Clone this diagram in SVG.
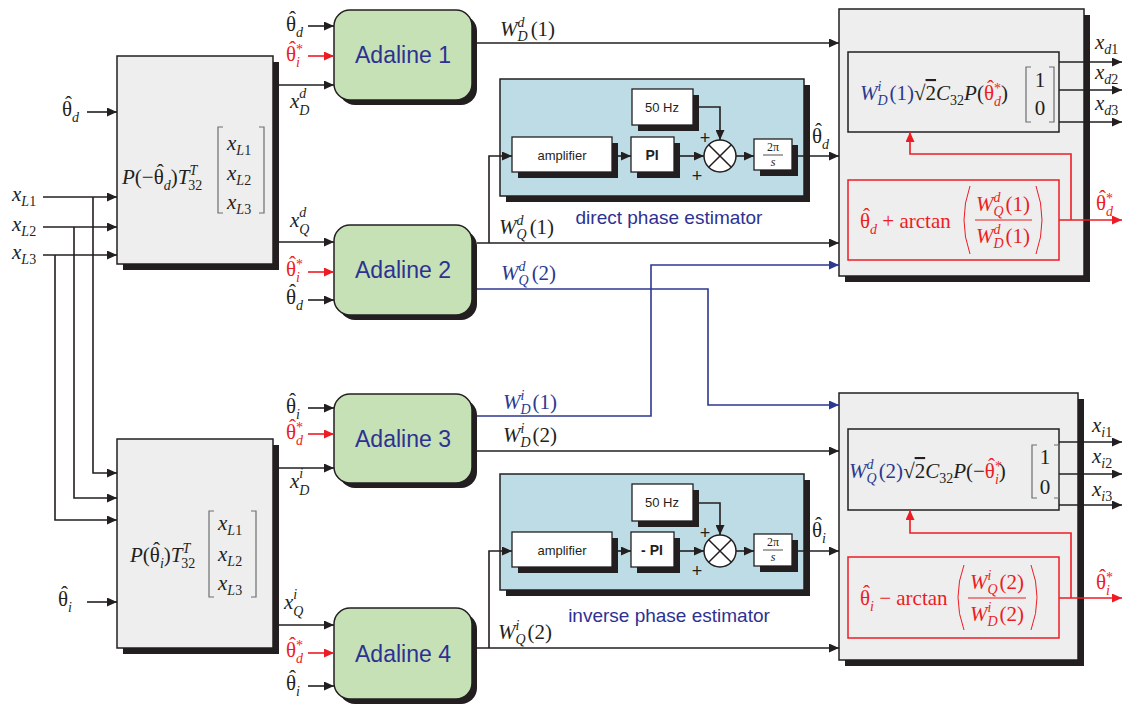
<svg xmlns="http://www.w3.org/2000/svg" width="1125" height="708" viewBox="0 0 1125 708">
<defs>
<style>
.blk{fill:#EDEEED;stroke:#231F20;stroke-width:1.5}
.sh{fill:#231F20}
.ada{fill:#C6E1B6;stroke:#231F20;stroke-width:1.5}
.est{fill:#BEDCE6;stroke:#231F20;stroke-width:1.5}
.wb{fill:#fff;stroke:#231F20;stroke-width:1.3}
.rb{fill:#EDEEED;stroke:#ED1C24;stroke-width:1.5}
.ln{fill:none;stroke:#231F20;stroke-width:1.6}
.lr{fill:none;stroke:#ED1C24;stroke-width:1.6}
.lb{fill:none;stroke:#2B3990;stroke-width:1.6}
.brk{fill:none;stroke:#6D6E71;stroke-width:1.2}
.brr{fill:none;stroke:#ED1C24;stroke-width:1}
.m{font-family:"Liberation Serif",serif;font-size:21px;fill:#231F20}
.i{font-style:italic}
.s{font-size:14px;font-style:italic}
.n{font-style:normal}
.r{fill:#ED1C24}
.b{fill:#2B3990}
.ov{text-decoration:overline}
.ad{font-family:"Liberation Sans",Arial,sans-serif;font-size:23px;fill:#2E3192}
.sm{font-family:"Liberation Sans",Arial,sans-serif;font-size:13px;fill:#231F20}
.pl{font-family:"Liberation Sans",Arial,sans-serif;font-size:18px;fill:#231F20}
.ttl{font-family:"Liberation Sans",Arial,sans-serif;font-size:19px;fill:#2E3192}
.fr{font-family:"Liberation Serif",serif;font-size:12px;fill:#231F20}
</style>
<marker id="ab" viewBox="0 0 10 9" refX="10" refY="4.5" markerWidth="10" markerHeight="9" markerUnits="userSpaceOnUse" orient="auto"><path d="M0,0 L10,4.5 L0,9 z" fill="#231F20"/></marker>
<marker id="ar" viewBox="0 0 10 9" refX="10" refY="4.5" markerWidth="10" markerHeight="9" markerUnits="userSpaceOnUse" orient="auto"><path d="M0,0 L10,4.5 L0,9 z" fill="#ED1C24"/></marker>
<marker id="abl" viewBox="0 0 10 9" refX="10" refY="4.5" markerWidth="10" markerHeight="9" markerUnits="userSpaceOnUse" orient="auto"><path d="M0,0 L10,4.5 L0,9 z" fill="#2B3990"/></marker>
</defs>
<rect width="1125" height="708" fill="#fff"/>

<g id="park-d">
<rect class="sh" x="123" y="62" width="156" height="208"/>
<rect class="blk" x="117" y="56" width="156" height="208"/>
<text class="m i" x="122" y="184">P<tspan class="n">(−θ</tspan><tspan class="n" dx="-7" dy="-5">ˆ</tspan><tspan class="s" dy="11">d</tspan><tspan class="n" dy="-6">)</tspan>T<tspan class="s" dy="-9">T</tspan><tspan class="s n" dx="-9" dy="15">32</tspan></text>
<path class="brk" d="M223,127 H218 V213 H223 M259,127 H264 V213 H259"/>
<text class="m i" x="227" y="150">x<tspan class="s" dy="5">L</tspan><tspan class="s n">1</tspan></text>
<text class="m i" x="227" y="180">x<tspan class="s" dy="5">L</tspan><tspan class="s n">2</tspan></text>
<text class="m i" x="227" y="209">x<tspan class="s" dy="5">L</tspan><tspan class="s n">3</tspan></text>
</g>

<g id="park-i">
<rect class="sh" x="123" y="445" width="156" height="209"/>
<rect class="blk" x="117" y="439" width="156" height="209"/>
<text class="m i" x="130" y="562">P<tspan class="n">(θ</tspan><tspan class="n" dx="-7" dy="-5">ˆ</tspan><tspan class="s" dy="11">i</tspan><tspan class="n" dy="-6">)</tspan>T<tspan class="s" dy="-9">T</tspan><tspan class="s n" dx="-9" dy="15">32</tspan></text>
<path class="brk" d="M214,511 H209 V597 H214 M251,511 H256 V597 H251"/>
<text class="m i" x="218" y="530">x<tspan class="s" dy="5">L</tspan><tspan class="s n">1</tspan></text>
<text class="m i" x="218" y="561">x<tspan class="s" dy="5">L</tspan><tspan class="s n">2</tspan></text>
<text class="m i" x="218" y="590">x<tspan class="s" dy="5">L</tspan><tspan class="s n">3</tspan></text>
</g>

<g id="adaline1">
<rect class="sh" x="339" y="15" width="138" height="90" rx="16"/>
<rect class="ada" x="334" y="10" width="138" height="90" rx="16"/>
<text class="ad" x="403" y="63" text-anchor="middle">Adaline 1</text>
</g>
<g id="adaline2">
<rect class="sh" x="339" y="230" width="138" height="90" rx="16"/>
<rect class="ada" x="334" y="225" width="138" height="90" rx="16"/>
<text class="ad" x="403" y="278" text-anchor="middle">Adaline 2</text>
</g>
<g id="adaline3">
<rect class="sh" x="339" y="399" width="138" height="89" rx="16"/>
<rect class="ada" x="334" y="394" width="138" height="89" rx="16"/>
<text class="ad" x="403" y="447" text-anchor="middle">Adaline 3</text>
</g>
<g id="adaline4">
<rect class="sh" x="339" y="613" width="138" height="91" rx="16"/>
<rect class="ada" x="334" y="608" width="138" height="91" rx="16"/>
<text class="ad" x="403" y="662" text-anchor="middle">Adaline 4</text>
</g>

<g id="est-d">
<rect class="sh" x="506" y="85" width="304" height="117"/>
<rect class="est" x="500" y="79" width="304" height="117"/>
<rect class="sh" x="518" y="143" width="100" height="35"/>
<rect class="wb" x="512" y="137" width="100" height="35"/>
<text class="sm" x="562" y="160" text-anchor="middle">amplifier</text>
<rect class="sh" x="637" y="143" width="43" height="35"/>
<rect class="wb" x="631" y="137" width="43" height="35"/>
<text class="sm" x="652" y="160" text-anchor="middle" style="font-size:14px;font-weight:bold">PI</text>
<rect class="sh" x="638" y="95" width="61" height="36"/>
<rect class="wb" x="632" y="89" width="61" height="36"/>
<text class="sm" x="662" y="112" text-anchor="middle">50 Hz</text>
<rect class="sh" x="760" y="145" width="38" height="31"/>
<rect class="wb" x="754" y="139" width="38" height="31"/>
<text class="fr" x="773" y="151" text-anchor="middle">2π</text>
<line x1="763" y1="155" x2="783" y2="155" stroke="#231F20" stroke-width="0.8"/>
<text class="fr" x="773" y="166" text-anchor="middle" font-style="italic">s</text>
<circle cx="720" cy="156" r="16" fill="#fff" stroke="#231F20" stroke-width="1.5"/>
<path d="M708.7,144.7 L731.3,167.3 M731.3,144.7 L708.7,167.3" stroke="#231F20" stroke-width="1.5"/>
<text class="pl" x="705" y="144" text-anchor="middle">+</text>
<text class="pl" x="697" y="182" text-anchor="middle">+</text>
<text class="ttl" x="669" y="224" text-anchor="middle">direct phase estimator</text>
</g>

<g id="est-i">
<rect class="sh" x="506" y="480" width="304" height="116"/>
<rect class="est" x="500" y="474" width="304" height="116"/>
<rect class="sh" x="518" y="538" width="100" height="35"/>
<rect class="wb" x="512" y="532" width="100" height="35"/>
<text class="sm" x="562" y="555" text-anchor="middle">amplifier</text>
<rect class="sh" x="637" y="538" width="43" height="35"/>
<rect class="wb" x="631" y="532" width="43" height="35"/>
<text class="sm" x="652" y="555" text-anchor="middle" style="font-size:14px;font-weight:bold">- PI</text>
<rect class="sh" x="638" y="490" width="61" height="37"/>
<rect class="wb" x="632" y="484" width="61" height="37"/>
<text class="sm" x="662" y="507" text-anchor="middle">50 Hz</text>
<rect class="sh" x="760" y="540" width="38" height="32"/>
<rect class="wb" x="754" y="534" width="38" height="32"/>
<text class="fr" x="773" y="546" text-anchor="middle">2π</text>
<line x1="763" y1="550" x2="783" y2="550" stroke="#231F20" stroke-width="0.8"/>
<text class="fr" x="773" y="561" text-anchor="middle" font-style="italic">s</text>
<circle cx="720" cy="551" r="16" fill="#fff" stroke="#231F20" stroke-width="1.5"/>
<path d="M708.7,539.7 L731.3,562.3 M731.3,539.7 L708.7,562.3" stroke="#231F20" stroke-width="1.5"/>
<text class="pl" x="705" y="539" text-anchor="middle">+</text>
<text class="pl" x="697" y="577" text-anchor="middle">+</text>
<text class="ttl" x="669" y="622" text-anchor="middle">inverse phase estimator</text>
</g>

<g id="out-d">
<rect class="sh" x="845" y="15" width="245" height="267"/>
<rect class="blk" x="839" y="9" width="245" height="267"/>
<rect class="blk" x="848" y="52" width="211" height="80"/>
<text class="m i" x="860" y="100"><tspan class="b">W</tspan><tspan class="s b" dy="-9">i</tspan><tspan class="s b" dx="-4" dy="14">D</tspan><tspan class="n b" dx="2" dy="-5">(1)</tspan><tspan class="n">√</tspan><tspan class="n ov">2</tspan>C<tspan class="s n" dy="5">32</tspan><tspan dy="-5">P</tspan><tspan class="n">(</tspan><tspan class="n r">θ</tspan><tspan class="n r" dx="-7" dy="-5">ˆ</tspan><tspan class="s n r" dy="-2">*</tspan><tspan class="s r" dx="-7" dy="13">d</tspan><tspan class="n" dy="-6">)</tspan></text>
<path class="brk" d="M1031,67 H1026 V122 H1031 M1049,67 H1054 V122 H1049"/>
<text class="m" x="1040" y="87" text-anchor="middle">1</text>
<text class="m" x="1040" y="115" text-anchor="middle">0</text>
<rect class="rb" x="848" y="180" width="211" height="80"/>
<text class="m r" x="860" y="228">θ<tspan dx="-7" dy="-5">ˆ</tspan><tspan class="s" dy="11">d</tspan><tspan dy="-6"> + arctan</tspan></text>
<path class="brr" d="M970,186 Q958,220 970,254 M1036,186 Q1048,220 1036,254"/>
<text class="m i r" x="1003" y="211" text-anchor="middle">W<tspan class="s" dy="-9">d</tspan><tspan class="s" dx="-7" dy="14">Q</tspan><tspan class="n" dx="2" dy="-5">(1)</tspan></text>
<line x1="975" y1="220" x2="1032" y2="220" stroke="#ED1C24" stroke-width="1"/>
<text class="m i r" x="1003" y="243" text-anchor="middle">W<tspan class="s" dy="-9">d</tspan><tspan class="s" dx="-7" dy="14">D</tspan><tspan class="n" dx="2" dy="-5">(1)</tspan></text>
</g>

<g id="out-i">
<rect class="sh" x="845" y="399" width="239" height="267"/>
<rect class="blk" x="839" y="393" width="239" height="267"/>
<rect class="blk" x="848" y="429" width="211" height="81"/>
<text class="m i" x="849" y="478"><tspan class="b">W</tspan><tspan class="s b" dy="-9">d</tspan><tspan class="s b" dx="-7" dy="14">Q</tspan><tspan class="n b" dx="2" dy="-5">(2)</tspan><tspan class="n">√</tspan><tspan class="n ov">2</tspan>C<tspan class="s n" dy="5">32</tspan><tspan dy="-5">P</tspan><tspan class="n">(−</tspan><tspan class="n r">θ</tspan><tspan class="n r" dx="-7" dy="-5">ˆ</tspan><tspan class="s n r" dy="-2">*</tspan><tspan class="s r" dx="-7" dy="13">i</tspan><tspan class="n" dy="-6">)</tspan></text>
<path class="brk" d="M1037,445 H1032 V498 H1037 M1054,445 H1059 V498 H1054"/>
<text class="m" x="1045" y="464" text-anchor="middle">1</text>
<text class="m" x="1045" y="494" text-anchor="middle">0</text>
<rect class="rb" x="848" y="557" width="211" height="81"/>
<text class="m r" x="860" y="605">θ<tspan dx="-7" dy="-5">ˆ</tspan><tspan class="s" dy="11">i</tspan><tspan dy="-6"> − arctan</tspan></text>
<path class="brr" d="M964,565 Q952,597 964,630 M1031,565 Q1043,597 1031,630"/>
<text class="m i r" x="997" y="589" text-anchor="middle">W<tspan class="s" dy="-9">i</tspan><tspan class="s" dx="-4" dy="14">Q</tspan><tspan class="n" dx="2" dy="-5">(2)</tspan></text>
<line x1="968" y1="598" x2="1026" y2="598" stroke="#ED1C24" stroke-width="1"/>
<text class="m i r" x="997" y="621" text-anchor="middle">W<tspan class="s" dy="-9">i</tspan><tspan class="s" dx="-4" dy="14">D</tspan><tspan class="n" dx="2" dy="-5">(2)</tspan></text>
</g>

<g id="connectors">
<path class="ln" d="M87,112 H117" marker-end="url(#ab)"/>
<path class="ln" d="M43,197 H117" marker-end="url(#ab)"/>
<path class="ln" d="M43,227 H117" marker-end="url(#ab)"/>
<path class="ln" d="M43,255 H117" marker-end="url(#ab)"/>
<path class="ln" d="M93,197 V473 H117" marker-end="url(#ab)"/>
<path class="ln" d="M74,227 V498 H117" marker-end="url(#ab)"/>
<path class="ln" d="M55,255 V520 H117" marker-end="url(#ab)"/>
<path class="ln" d="M87,602 H117" marker-end="url(#ab)"/>
<path class="ln" d="M308,26 H334" marker-end="url(#ab)"/>
<path class="lr" d="M308,56 H334" marker-end="url(#ar)"/>
<path class="ln" d="M279,85 H334" marker-end="url(#ab)"/>
<path class="ln" d="M279,242 H334" marker-end="url(#ab)"/>
<path class="lr" d="M308,272 H334" marker-end="url(#ar)"/>
<path class="ln" d="M308,300 H334" marker-end="url(#ab)"/>
<path class="ln" d="M308,408 H334" marker-end="url(#ab)"/>
<path class="lr" d="M308,434 H334" marker-end="url(#ar)"/>
<path class="ln" d="M279,468 H334" marker-end="url(#ab)"/>
<path class="ln" d="M279,625 H334" marker-end="url(#ab)"/>
<path class="lr" d="M308,653 H334" marker-end="url(#ar)"/>
<path class="ln" d="M308,686 H334" marker-end="url(#ab)"/>
<path class="ln" d="M477,43 H839" marker-end="url(#ab)"/>
<path class="ln" d="M477,243 H839" marker-end="url(#ab)"/>
<path class="ln" d="M489,243 V156 H512" marker-end="url(#ab)"/>
<path class="lb" d="M477,289 H708 V405 H839" marker-end="url(#abl)"/>
<path class="lb" d="M477,416 H651 V265 H839" marker-end="url(#abl)"/>
<path class="ln" d="M477,451 H839" marker-end="url(#ab)"/>
<path class="ln" d="M477,648 H839" marker-end="url(#ab)"/>
<path class="ln" d="M489,648 V551 H512" marker-end="url(#ab)"/>
<path class="ln" d="M618,156 H631" marker-end="url(#ab)"/>
<path class="ln" d="M680,156 H704" marker-end="url(#ab)"/>
<path class="ln" d="M699,107 H720 V140" marker-end="url(#ab)"/>
<path class="ln" d="M736,156 H754" marker-end="url(#ab)"/>
<path class="ln" d="M798,156 H839" marker-end="url(#ab)"/>
<path class="ln" d="M618,551 H631" marker-end="url(#ab)"/>
<path class="ln" d="M680,551 H704" marker-end="url(#ab)"/>
<path class="ln" d="M699,503 H720 V535" marker-end="url(#ab)"/>
<path class="ln" d="M736,551 H754" marker-end="url(#ab)"/>
<path class="ln" d="M798,551 H839" marker-end="url(#ab)"/>
<path class="ln" d="M1059,62 H1122" marker-end="url(#ab)"/>
<path class="ln" d="M1059,90 H1122" marker-end="url(#ab)"/>
<path class="ln" d="M1059,122 H1122" marker-end="url(#ab)"/>
<path class="lr" d="M1059,220 H1122" marker-end="url(#ar)"/>
<path class="lr" d="M1071,220 V154 H910 V132" marker-end="url(#ar)"/>
<path class="ln" d="M1059,442 H1122" marker-end="url(#ab)"/>
<path class="ln" d="M1059,474 H1122" marker-end="url(#ab)"/>
<path class="ln" d="M1059,505 H1122" marker-end="url(#ab)"/>
<path class="lr" d="M1059,598 H1122" marker-end="url(#ar)"/>
<path class="lr" d="M1071,598 V533 H910 V510" marker-end="url(#ar)"/>
</g>

<g id="labels">
<text class="m" x="62" y="116">θ<tspan dx="-7" dy="-5">ˆ</tspan><tspan class="s" dy="11">d</tspan></text>
<text class="m i" x="12" y="201">x<tspan class="s" dy="5">L</tspan><tspan class="s n">1</tspan></text>
<text class="m i" x="12" y="231">x<tspan class="s" dy="5">L</tspan><tspan class="s n">2</tspan></text>
<text class="m i" x="12" y="259">x<tspan class="s" dy="5">L</tspan><tspan class="s n">3</tspan></text>
<text class="m" x="58" y="606">θ<tspan dx="-7" dy="-5">ˆ</tspan><tspan class="s" dy="11">i</tspan></text>

<text class="m" x="286" y="31">θ<tspan dx="-7" dy="-5">ˆ</tspan><tspan class="s" dy="11">d</tspan></text>
<text class="m r" x="286" y="61">θ<tspan dx="-7" dy="-5">ˆ</tspan><tspan class="s n" dy="-2">*</tspan><tspan class="s" dx="-7" dy="13">i</tspan></text>
<text class="m i" x="290" y="108">x<tspan class="s" dy="-10">d</tspan><tspan class="s" dx="-7" dy="17">D</tspan></text>

<text class="m i" x="290" y="227">x<tspan class="s" dy="-10">d</tspan><tspan class="s" dx="-7" dy="17">Q</tspan></text>
<text class="m r" x="286" y="276">θ<tspan dx="-7" dy="-5">ˆ</tspan><tspan class="s n" dy="-2">*</tspan><tspan class="s" dx="-7" dy="13">i</tspan></text>
<text class="m" x="286" y="304">θ<tspan dx="-7" dy="-5">ˆ</tspan><tspan class="s" dy="11">d</tspan></text>

<text class="m" x="286" y="413">θ<tspan dx="-7" dy="-5">ˆ</tspan><tspan class="s" dy="11">i</tspan></text>
<text class="m r" x="286" y="439">θ<tspan dx="-7" dy="-5">ˆ</tspan><tspan class="s n" dy="-2">*</tspan><tspan class="s" dx="-7" dy="13">d</tspan></text>
<text class="m i" x="290" y="488">x<tspan class="s" dy="-10">i</tspan><tspan class="s" dx="-4" dy="17">D</tspan></text>

<text class="m i" x="284" y="609">x<tspan class="s" dy="-10">i</tspan><tspan class="s" dx="-4" dy="17">Q</tspan></text>
<text class="m r" x="286" y="657">θ<tspan dx="-7" dy="-5">ˆ</tspan><tspan class="s n" dy="-2">*</tspan><tspan class="s" dx="-7" dy="13">d</tspan></text>
<text class="m" x="286" y="690">θ<tspan dx="-7" dy="-5">ˆ</tspan><tspan class="s" dy="11">i</tspan></text>

<text class="m i" x="500" y="36">W<tspan class="s" dy="-9">d</tspan><tspan class="s" dx="-7" dy="14">D</tspan><tspan class="n" dx="3" dy="-5">(1)</tspan></text>
<text class="m i" x="499" y="234">W<tspan class="s" dy="-9">d</tspan><tspan class="s" dx="-7" dy="14">Q</tspan><tspan class="n" dx="3" dy="-5">(1)</tspan></text>
<text class="m i b" x="501" y="280">W<tspan class="s" dy="-9">d</tspan><tspan class="s" dx="-7" dy="14">Q</tspan><tspan class="n" dx="3" dy="-5">(2)</tspan></text>
<text class="m i b" x="503" y="409">W<tspan class="s" dy="-9">i</tspan><tspan class="s" dx="-4" dy="14">D</tspan><tspan class="n" dx="2" dy="-5">(1)</tspan></text>
<text class="m i" x="503" y="442">W<tspan class="s" dy="-9">i</tspan><tspan class="s" dx="-4" dy="14">D</tspan><tspan class="n" dx="2" dy="-5">(2)</tspan></text>
<text class="m i" x="498" y="639">W<tspan class="s" dy="-9">i</tspan><tspan class="s" dx="-4" dy="14">Q</tspan><tspan class="n" dx="2" dy="-5">(2)</tspan></text>

<text class="m" x="812" y="143">θ<tspan dx="-7" dy="-5">ˆ</tspan><tspan class="s" dy="11">d</tspan></text>
<text class="m" x="812" y="537">θ<tspan dx="-7" dy="-5">ˆ</tspan><tspan class="s" dy="11">i</tspan></text>

<text class="m i" x="1095" y="49">x<tspan class="s" dy="5">d</tspan><tspan class="s n">1</tspan></text>
<text class="m i" x="1095" y="79">x<tspan class="s" dy="5">d</tspan><tspan class="s n">2</tspan></text>
<text class="m i" x="1095" y="110">x<tspan class="s" dy="5">d</tspan><tspan class="s n">3</tspan></text>
<text class="m i" x="1092" y="432">x<tspan class="s" dy="5">i</tspan><tspan class="s n">1</tspan></text>
<text class="m i" x="1092" y="463">x<tspan class="s" dy="5">i</tspan><tspan class="s n">2</tspan></text>
<text class="m i" x="1092" y="496">x<tspan class="s" dy="5">i</tspan><tspan class="s n">3</tspan></text>
<text class="m r" x="1096" y="210">θ<tspan dx="-7" dy="-5">ˆ</tspan><tspan class="s n" dy="-2">*</tspan><tspan class="s" dx="-7" dy="13">d</tspan></text>
<text class="m r" x="1096" y="589">θ<tspan dx="-7" dy="-5">ˆ</tspan><tspan class="s n" dy="-2">*</tspan><tspan class="s" dx="-7" dy="13">i</tspan></text>
</g>
</svg>
